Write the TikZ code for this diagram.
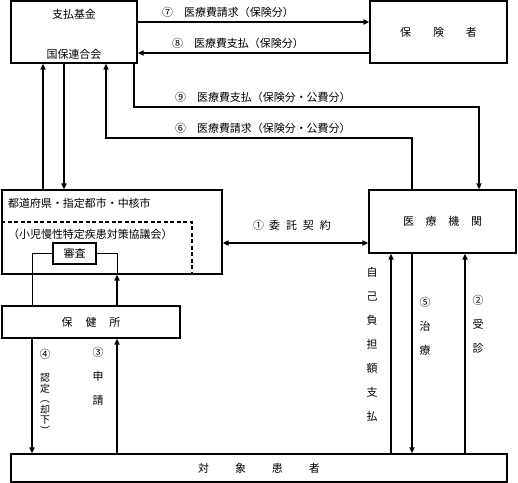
\documentclass[tikz,border=0pt]{standalone}
\usepackage{fontspec}
\setmainfont{Noto Sans CJK JP}
\usetikzlibrary{arrows.meta,calc}
\begin{document}
\begin{tikzpicture}[x=1bp,y=-1bp,
  box/.style={draw,line width=1.1bp,inner sep=0pt,rectangle,font=\fontsize{11}{13}\selectfont},
  txt/.style={inner sep=0pt,font=\fontsize{11}{13}\selectfont},
  tip/.tip={Triangle[length=6bp,width=5bp]},
  arr/.style={line width=1.5bp,-tip},
  flow/.style={line width=1.3bp,-tip},
  thinl/.style={line width=0.8bp},
  dsh/.style={line width=1.6bp,dash pattern=on 4bp off 2.5bp},
  vtxt/.style={inner sep=0pt,align=center,font=\fontsize{11}{24}\selectfont}]
\useasboundingbox (0,0) rectangle (518,483);
% column / row helpers
\coordinate (c32) at (32,0);
\coordinate (c43) at (43,0);
\coordinate (c64) at (64,0);
\coordinate (c106) at (106,0);
\coordinate (c117) at (117,0);
\coordinate (c134) at (134,0);
\coordinate (c192) at (192,0);
\coordinate (c391) at (391,0);
\coordinate (c412) at (412,0);
\coordinate (c465) at (465,0);
\coordinate (c479) at (479,0);
\coordinate (r22) at (0,22);
\coordinate (r53) at (0,53);
\coordinate (r107) at (0,107);
\coordinate (r138) at (0,138);
\coordinate (r222) at (0,222);
\coordinate (r243) at (0,243);
% boxes
\node[box,minimum width=126bp,minimum height=62bp] (kikin) at (74,32) {};
\node[txt] (kikinA) at (74,14) {支払基金};
\node[txt] (kikinB) at (74,54) {国保連合会};
\node[box,minimum width=137bp,minimum height=62bp] (hoken) at (438.5,32) {保\hspace{22bp}険\hspace{22bp}者};
\node[box,minimum width=220bp,minimum height=84bp] (pref) at (112,232) {};
\node[txt,anchor=west] (prefA) at (8,203) {都道府県・指定都市・中核市};
\node[txt,anchor=west] (prefB) at (8,234) {（小児慢性特定疾患対策協議会）};
\node[box,minimum width=43bp,minimum height=21bp] (shinsa) at (74.5,253.5) {審査};
\node[box,minimum width=147bp,minimum height=63bp] (iryo) at (442.5,221.5) {医\hspace{11.7bp}療\hspace{11.7bp}機\hspace{11.7bp}関};
\node[box,minimum width=178bp,minimum height=32bp] (hokenjo) at (91,322) {保\hspace{13bp}健\hspace{13bp}所};
\node[box,minimum width=496bp,minimum height=28bp] (kanja) at (259,468) {対\hspace{26bp}象\hspace{26bp}患\hspace{26bp}者};
% dashed council frame
\draw[dsh] (pref.west |- r222) -| (pref.south -| c192);
% top connectors
\draw[arr] (kikin.east |- r22) -- (hoken.west |- r22);
\draw[arr] (hoken.west |- r53) -- (kikin.east |- r53);
\draw[flow] (kikin.south -| c134) |- (c479 |- r107) -- (iryo.north -| c479);
\draw[flow] (iryo.north -| c412) |- (c106 |- r138) -- (kikin.south -| c106);
\draw[arr] (pref.north -| c43) -- (kikin.south -| c43);
\draw[arr] (kikin.south -| c64) -- (pref.north -| c64);
% contract
\draw[line width=1.5bp,tip-tip] (pref.east |- r243) -- (iryo.west |- r243);
% review lines
\draw[thinl] (hokenjo.north -| c32) |- (shinsa.west);
\draw[thinl] (shinsa.east) -| (pref.south -| c117);
\draw[arr] (hokenjo.north -| c117) -- (pref.south -| c117);
% lower connectors
\draw[arr] (hokenjo.south -| c32) -- (kanja.north -| c32);
\draw[arr] (kanja.north -| c117) -- (hokenjo.south -| c117);
\draw[arr] (kanja.north -| c391) -- (iryo.south -| c391);
\draw[arr] (iryo.south -| c412) -- (kanja.north -| c412);
\draw[arr] (kanja.north -| c465) -- (iryo.south -| c465);
% labels
\node[txt,anchor=west] (l7) at (162,12) {⑦　医療費請求（保険分）};
\node[txt,anchor=west] (l8) at (172,43) {⑧　医療費支払（保険分）};
\node[txt,anchor=west] (l9) at (175,97) {⑨　医療費支払（保険分・公費分）};
\node[txt,anchor=west] (l6) at (175,128) {⑥　医療費請求（保険分・公費分）};
\node[txt] (l1) at (292,225) {①\hspace{5bp}委\hspace{6bp}託\hspace{6bp}契\hspace{6bp}約};
\node[vtxt] (lself) at (372,344.5) {自\\己\\負\\担\\額\\支\\払};
\node[vtxt] (l5) at (425,326) {⑤\\治\\療};
\node[vtxt] (l2) at (478,324) {②\\受\\診};
\node[vtxt] (l3) at (98,376.5) {③\\申\\請};
\node[txt] (l4) at (45,354) {④};
\node[vtxt,font=\fontsize{10}{10.5}\selectfont] (l4b) at (45,404) {認\\定\\︵\\却\\下\\︶};
\end{tikzpicture}
\end{document}
